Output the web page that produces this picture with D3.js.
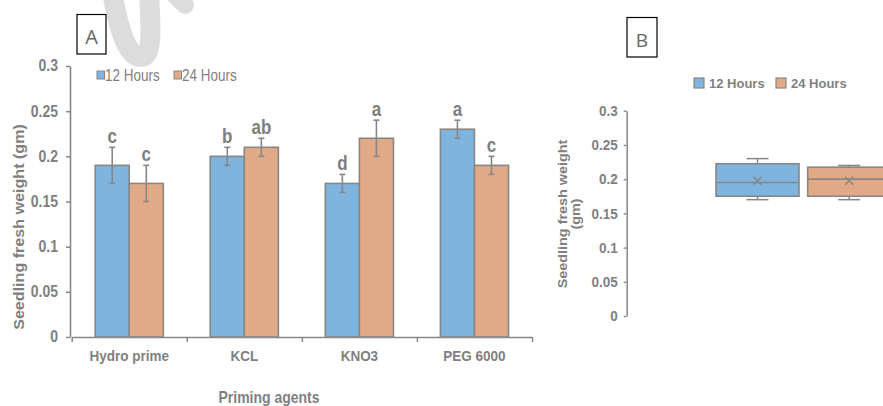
<!DOCTYPE html>
<html><head><meta charset="utf-8">
<script src="https://cdn.jsdelivr.net/npm/d3@7"></script>
<style>
html,body{margin:0;padding:0;background:#fff;}
svg{display:block;font-family:"Liberation Sans",Arial,sans-serif;}
</style></head>
<body><svg id="c" width="883" height="406"></svg>
<script>
// ---- data ----
const categories = ["Hydro prime", "KCL", "KNO3", "PEG 6000"];
const seriesNames = ["12 Hours", "24 Hours"];
const hours12 = [0.19, 0.20, 0.17, 0.23];
const hours24 = [0.17, 0.21, 0.22, 0.19];
const err12 = [0.02, 0.01, 0.01, 0.01];
const err24 = [0.02, 0.01, 0.02, 0.01];
const letters12 = ["c", "b", "d", "a"];
const letters24 = ["c", "ab", "a", "c"];
const yTicks = [0, 0.05, 0.1, 0.15, 0.2, 0.25, 0.3];
const yTickLabels = ["0", "0.05", "0.1", "0.15", "0.2", "0.25", "0.3"];

const colors = ["#7EB4DD", "#E1AA86"];
const grey = "#878787";
const textGrey = "#7f7f7f";
const svg = d3.select("#c");
const SY = 1.15; // vertical stretch of text as in the reference

// watermark
svg.append("path").attr("d", "M112,-8 C119,30 127,57 141,57 C153,57 151,30 149,-8")
  .attr("fill", "none").attr("stroke", "#dcdcdc").attr("stroke-width", 20).attr("stroke-linecap", "round");
svg.append("path").attr("d", "M166,-14 L185,5")
  .attr("fill", "none").attr("stroke", "#dcdcdc").attr("stroke-width", 18).attr("stroke-linecap", "round");

function stretch(sel) { sel.each(function () { d3.select(this).attr("transform", `scale(1,${SY})`); }); }

// ================= Panel A =================
const yA = d3.scaleLinear().domain([0, 0.3]).range([337, 66]);
const xA = d3.scaleBand().domain(categories).range([71.7, 532]).padding(0);
const groupW = xA.step() * 0.592;
const xIn = d3.scaleBand().domain(seriesNames).range([0, groupW]);

// label box A
svg.append("rect").attr("x", 77).attr("y", 14.5).attr("width", 29).attr("height", 39.5)
  .attr("fill", "#fff").attr("stroke", "#000").attr("stroke-width", 1.2);
svg.append("text").attr("x", 91.5).attr("y", 44).attr("text-anchor", "middle")
  .attr("font-size", 20).attr("fill", "#666").attr("font-family", "Open Sans, sans-serif").text("A");

// y axis A
const gyA = svg.append("g").attr("transform", "translate(70,0)")
  .call(d3.axisLeft(yA).tickValues(yTicks).tickFormat((d, i) => yTickLabels[i]).tickSize(4).tickSizeOuter(0).tickPadding(8));
gyA.select(".domain").attr("stroke", grey).attr("stroke-width", 1.6);
gyA.selectAll(".tick line").attr("stroke", grey).attr("stroke-width", 1.5);
gyA.selectAll(".tick text").attr("font-size", 14).attr("font-weight", "bold").attr("fill", textGrey)
  .attr("dy", "0.3em").call(stretch);

// x axis A
const xIdx = d3.scaleLinear().domain([0, categories.length]).range([71.7, 532]);
const gxA = svg.append("g").attr("transform", "translate(0,337)")
  .call(d3.axisBottom(xIdx).tickValues(d3.range(categories.length + 1)).tickFormat("").tickSize(5).tickSizeOuter(0));
gxA.select(".domain").attr("stroke", grey).attr("stroke-width", 1.6);
gxA.selectAll(".tick line").attr("stroke", grey).attr("stroke-width", 1.5);
const gxL = svg.append("g").attr("transform", "translate(0,337)")
  .call(d3.axisBottom(xA).tickSize(0).tickPadding(11));
gxL.select(".domain").remove();
gxL.selectAll(".tick text").attr("font-size", 13.5).attr("font-weight", "bold").attr("fill", textGrey).call(stretch);

// bars
const rows = categories.map((c, i) => ({
  cat: c,
  vals: [
    { s: seriesNames[0], v: hours12[i], e: err12[i], l: letters12[i], k: 0 },
    { s: seriesNames[1], v: hours24[i], e: err24[i], l: letters24[i], k: 1 }
  ]
}));
const groups = svg.append("g").selectAll("g").data(rows).join("g")
  .attr("transform", d => `translate(${xA(d.cat) + (xA.step() - groupW) / 2},0)`);
groups.selectAll("rect").data(d => d.vals).join("rect")
  .attr("x", d => xIn(d.s)).attr("width", xIn.bandwidth())
  .attr("y", d => yA(d.v)).attr("height", d => yA(0) - yA(d.v))
  .attr("fill", d => colors[d.k]).attr("stroke", grey).attr("stroke-width", 1.6);
const eb = groups.selectAll("g.eb").data(d => d.vals).join("g").attr("class", "eb")
  .attr("transform", d => `translate(${xIn(d.s) + xIn.bandwidth() / 2},0)`);
eb.append("line").attr("y1", d => yA(d.v + d.e)).attr("y2", d => yA(d.v - d.e))
  .attr("stroke", grey).attr("stroke-width", 1.6);
eb.append("line").attr("x1", -3).attr("x2", 3).attr("y1", d => yA(d.v + d.e)).attr("y2", d => yA(d.v + d.e))
  .attr("stroke", grey).attr("stroke-width", 1.6);
eb.append("line").attr("x1", -3).attr("x2", 3).attr("y1", d => yA(d.v - d.e)).attr("y2", d => yA(d.v - d.e))
  .attr("stroke", grey).attr("stroke-width", 1.6);
eb.append("text").attr("text-anchor", "middle").attr("font-size", 17).attr("font-weight", "bold")
  .attr("fill", textGrey)
  .attr("transform", d => `translate(0,${yA(d.v + d.e) - 4}) scale(1,${SY})`).text(d => d.l);

// axis titles A
svg.append("text").attr("transform", `translate(24,227) rotate(-90) scale(${SY},1)`)
  .attr("text-anchor", "middle").attr("font-size", 14).attr("font-weight", "bold").attr("fill", textGrey)
  .text("Seedling fresh weight (gm)");
svg.append("text").attr("transform", `translate(269,403) scale(1,${SY})`)
  .attr("text-anchor", "middle").attr("font-size", 14).attr("font-weight", "bold").attr("fill", textGrey)
  .text("Priming agents");

// legend A
const legA = svg.append("g").selectAll("g").data(seriesNames).join("g")
  .attr("transform", (d, i) => `translate(${[97, 174][i]},71)`);
legA.append("rect").attr("width", 7.5).attr("height", 8).attr("fill", (d, i) => colors[i])
  .attr("stroke", grey).attr("stroke-width", 1);
legA.append("text").attr("font-size", 14.5).attr("fill", textGrey)
  .attr("transform", `translate(8,9.5) scale(0.93,${SY})`).text(d => d);

// ================= Panel B =================
const yB = d3.scaleLinear().domain([0, 0.3]).range([316, 110.7]);
const xB = d3.scaleBand().domain(seriesNames).range([716, 890.7]).paddingInner(0.095);

svg.append("rect").attr("x", 627).attr("y", 17.5).attr("width", 30).attr("height", 39.5)
  .attr("fill", "#fff").attr("stroke", "#000").attr("stroke-width", 1.2);
svg.append("text").attr("x", 642).attr("y", 47).attr("text-anchor", "middle")
  .attr("font-size", 19).attr("fill", "#666").attr("font-family", "Open Sans, sans-serif").text("B");

const gyB = svg.append("g").attr("transform", "translate(626.7,0)")
  .call(d3.axisLeft(yB).tickValues(yTicks).tickFormat((d, i) => yTickLabels[i]).tickSize(3).tickSizeOuter(0).tickPadding(6));
gyB.select(".domain").attr("stroke", grey).attr("stroke-width", 1.5);
gyB.selectAll(".tick line").attr("stroke", grey).attr("stroke-width", 1.4);
gyB.selectAll(".tick text").attr("font-size", 13.5).attr("font-weight", "bold").attr("fill", textGrey)
  .attr("dy", "0.3em").call(stretch);

const ylB = svg.append("text").attr("transform", `translate(567,214) rotate(-90) scale(${SY},1)`)
  .attr("text-anchor", "middle").attr("font-size", 12.5).attr("font-weight", "bold").attr("fill", textGrey);
ylB.append("tspan").attr("x", 0).attr("dy", 0).text("Seedling fresh weight");
ylB.append("tspan").attr("x", 0).attr("dy", 13.5).text("(gm)");

const legB = svg.append("g").selectAll("g").data(seriesNames).join("g")
  .attr("transform", (d, i) => `translate(${[694, 776][i]},78)`);
legB.append("rect").attr("width", 10).attr("height", 10).attr("fill", (d, i) => colors[i])
  .attr("stroke", grey).attr("stroke-width", 1.2);
legB.append("text").attr("x", 15).attr("y", 10).attr("font-size", 13).attr("font-weight", "bold")
  .attr("fill", textGrey).text(d => d);

// box stats (Excel exclusive quartiles)
function quantExc(sorted, p) {
  const n = sorted.length, pos = (n + 1) * p;
  const lo = Math.floor(pos), fr = pos - lo;
  if (lo < 1) return sorted[0];
  if (lo >= n) return sorted[n - 1];
  return sorted[lo - 1] + fr * (sorted[lo] - sorted[lo - 1]);
}
const boxData = [hours12, hours24].map((arr, k) => {
  const s = arr.slice().sort(d3.ascending);
  return { s: seriesNames[k], k, min: s[0], max: s[s.length - 1], q1: quantExc(s, 0.25),
    med: d3.median(s), q3: quantExc(s, 0.75), mean: d3.mean(s) };
});
const bx = svg.append("g").selectAll("g").data(boxData).join("g")
  .attr("transform", d => `translate(${xB(d.s)},0)`);
const bw = xB.bandwidth();
bx.append("line").attr("x1", bw / 2).attr("x2", bw / 2).attr("y1", d => yB(d.max)).attr("y2", d => yB(d.q3))
  .attr("stroke", grey).attr("stroke-width", 1.5);
bx.append("line").attr("x1", bw / 2).attr("x2", bw / 2).attr("y1", d => yB(d.min)).attr("y2", d => yB(d.q1))
  .attr("stroke", grey).attr("stroke-width", 1.5);
bx.append("line").attr("x1", bw / 2 - 11).attr("x2", bw / 2 + 11).attr("y1", d => yB(d.max)).attr("y2", d => yB(d.max))
  .attr("stroke", grey).attr("stroke-width", 1.5);
bx.append("line").attr("x1", bw / 2 - 11).attr("x2", bw / 2 + 11).attr("y1", d => yB(d.min)).attr("y2", d => yB(d.min))
  .attr("stroke", grey).attr("stroke-width", 1.5);
bx.append("rect").attr("width", bw).attr("y", d => yB(d.q3)).attr("height", d => yB(d.q1) - yB(d.q3))
  .attr("fill", d => colors[d.k]).attr("stroke", grey).attr("stroke-width", 1.6);
bx.append("line").attr("x1", 0).attr("x2", bw).attr("y1", d => yB(d.med)).attr("y2", d => yB(d.med))
  .attr("stroke", grey).attr("stroke-width", 1.6);
bx.append("path").attr("d", d => {
  const cx = bw / 2, cy = yB(d.mean), r = 4;
  return `M${cx - r},${cy - r}L${cx + r},${cy + r}M${cx - r},${cy + r}L${cx + r},${cy - r}`;
}).attr("stroke", grey).attr("stroke-width", 1.5);
</script></body></html>
